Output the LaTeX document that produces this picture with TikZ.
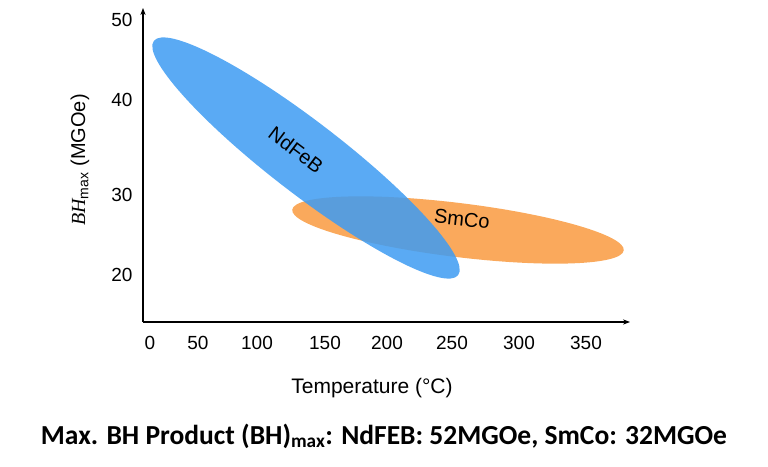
\documentclass[tikz,border=0pt]{standalone}
\usepackage{fontspec}
\setmainfont{Liberation Sans}
\newfontfamily\capfont{Carlito}
\newfontfamily\bhfont{Liberation Serif}
\usetikzlibrary{arrows.meta}
\definecolor{ndblue}{HTML}{3D9BF2}
\definecolor{smorange}{HTML}{F9A04A}
\begin{document}
\begin{tikzpicture}[x=1pt,y=-1pt,
        axis/.style={line width=1.2pt,-{Stealth[length=7pt]}},
        tick/.style={font=\fontsize{19}{19}\selectfont},
        blob/.style={opacity=0.9}]
        % Rahmen
        \useasboundingbox (0,0) rectangle (768,466);
        % Ellipsen
        \fill[smorange,blob,rotate around={-7:(458,230)}] (458,230) ellipse (167 and 27);
        \fill[ndblue,blob,opacity=0.85,rotate around={-37.6:(306,158)}] (306,158) ellipse (192 and 36);
        \node[rotate=-37,font=\fontsize{20}{20}\selectfont] (nd) at (296,150) {NdFeB};
        \node[rotate=-6,font=\fontsize{20}{20}\selectfont] (sm) at (462,219) {SmCo};
        % Achsen
        \coordinate (o) at (143,322);
        \coordinate (xe) at (630,322);
        \coordinate (ye) at (143,8);
        \draw[axis] (o) -- (xe);
        \draw[axis] (o) -- (ye);
        % Beschriftung
        \foreach \t/\x in {0/150,50/198,100/257,150/325,200/387,250/452,300/519,350/586}
          \node[tick] (x\t) at (\x,343) {\t};
        \foreach \t/\y in {50/20,40/100,30/195,20/275}
          \node[tick] (y\t) at (122,\y) {\t};
        \node[rotate=90,font=\fontsize{20}{20}\selectfont] (ylab) at (80,160)
          {{\bhfont\itshape BH}\textsubscript{max} (MGOe)};
        \node[font=\fontsize{21}{21}\selectfont] (xlab) at (372,388) {Temperature (°C)};
        \node[font=\capfont\bfseries\fontsize{27.5}{28}\selectfont] (cap) at (384,436)
          {Max. BH Product (BH)\textsubscript{max}: NdFEB: 52MGOe, SmCo: 32MGOe};
      \end{tikzpicture}
\end{document}
